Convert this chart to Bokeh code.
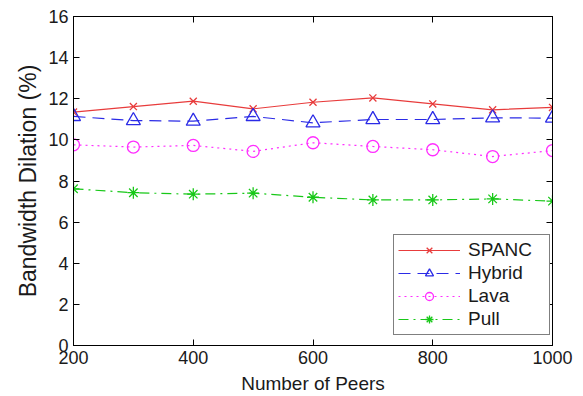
from bokeh.plotting import figure
from bokeh.models import Range1d, FixedTicker, LinearAxis, Legend, LegendItem, CustomLabelingPolicy, Title
from bokeh.embed import file_html
from bokeh.resources import INLINE

peers = [200, 300, 400, 500, 600, 700, 800, 900, 1000]
spanc = [11.35, 11.62, 11.88, 11.51, 11.83, 12.04, 11.75, 11.46, 11.58]
hybrid = [11.14, 10.94, 10.91, 11.14, 10.83, 10.99, 10.99, 11.07, 11.06]
lava = [9.76, 9.65, 9.73, 9.44, 9.86, 9.68, 9.52, 9.19, 9.48]
pull = [7.62, 7.43, 7.36, 7.41, 7.21, 7.08, 7.08, 7.13, 7.02]
x_ticks = [200, 400, 600, 800, 1000]
y_ticks = [0, 2, 4, 6, 8, 10, 12, 14, 16]

FONT = "Liberation Sans"

p = figure(width=583, height=396, output_backend="svg", toolbar_location=None,
           x_range=Range1d(200, 1000), y_range=Range1d(0, 16),
           min_border_left=73, min_border_right=31, min_border_top=16, min_border_bottom=51)
p.xgrid.visible = False
p.ygrid.visible = False
p.outline_line_color = "black"
p.outline_line_alpha = 1.0
p.background_fill_color = "white"
p.border_fill_color = "white"

no_labels = CustomLabelingPolicy(code="""
    for (const i of [...indices]) { indices.unset(i) }
    return indices
""")

def style_axis(ax, ticks, labels=True):
    ax.ticker = FixedTicker(ticks=ticks)
    ax.major_tick_in = 6
    ax.major_tick_out = 0
    ax.minor_tick_line_color = None
    ax.axis_line_color = "black"
    ax.major_tick_line_color = "black"
    ax.major_label_text_font = FONT
    ax.major_label_text_color = "#1a1a1a"
    ax.major_label_text_font_size = "18px"
    if labels:
        ax.major_label_standoff = 5
    else:
        ax.major_label_standoff = 0
        ax.major_label_policy = no_labels

style_axis(p.xaxis[0], x_ticks)
style_axis(p.yaxis[0], y_ticks)
p.xaxis.axis_label = "Number of Peers"
p.xaxis.axis_label_text_font = FONT
p.xaxis.axis_label_text_font_style = "normal"
p.xaxis.axis_label_text_color = "#1a1a1a"
p.xaxis.axis_label_text_font_size = "19px"
p.xaxis.axis_label_standoff = 6

ytitle = Title(text="Bandwidth Dilation (%)", align="center", offset=46, standoff=10,
               text_font=FONT, text_font_size="23px", text_font_style="normal",
               text_color="#1a1a1a")
p.add_layout(ytitle, "left")

ax_r = LinearAxis()
style_axis(ax_r, y_ticks, labels=False)
p.add_layout(ax_r, "right")
ax_t = LinearAxis()
style_axis(ax_t, x_ticks, labels=False)
p.add_layout(ax_t, "above")

series = [
    ("SPANC", spanc, "#e83c3c", "solid", "x", 10),
    ("Hybrid", hybrid, "#2b2be6", "12 7", "triangle", 14),
    ("Lava", lava, "#ff2eff", "2 4", "circle", 12),
    ("Pull", pull, "#18c818", "10 5 2 5", "asterisk", 12),
]

items = []
for name, vals, color, dash, marker, size in series:
    r1 = p.line(peers, vals, line_color=color, line_dash=dash, line_width=1.2)
    r2 = p.scatter(peers, vals, marker=marker, size=size, line_color=color,
                   fill_color=None, line_width=1.3)
    items.append(LegendItem(label=name, renderers=[r1, r2]))

legend = Legend(items=items, location=(320, 10), margin=0, padding=4, spacing=1,
                glyph_width=62, glyph_height=20, label_height=20, label_width=77,
                label_standoff=8, border_line_color="black", border_line_width=1,
                label_text_font=FONT, label_text_font_size="19px",
                label_text_color="#1a1a1a", background_fill_color="white",
                background_fill_alpha=1.0)
p.add_layout(legend, "center")

open("out.html", "w").write(file_html(p, INLINE))
